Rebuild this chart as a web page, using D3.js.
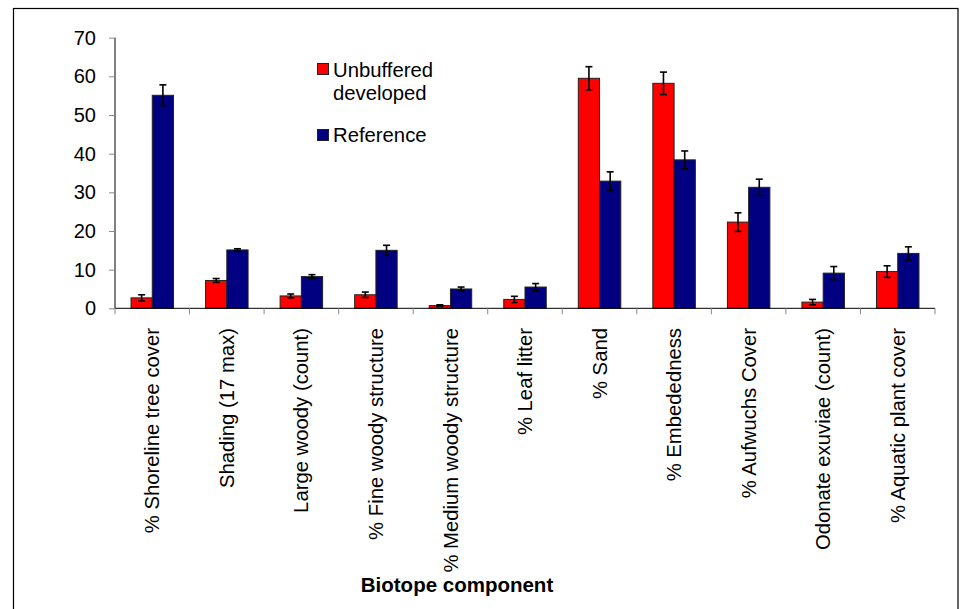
<!DOCTYPE html>
<html>
<head>
<meta charset="utf-8">
<script src="https://cdn.jsdelivr.net/npm/d3@7"></script>
<style>
body { margin: 0; background: #fff; }
svg { display: block; }
text { font-family: Arial, "Liberation Sans", sans-serif; fill: #000; }
</style>
</head>
<body>
<svg id="chart" width="963" height="609"></svg>
<script>
const categories = ["% Shoreline tree cover", "Shading (17 max)", "Large woody (count)", "% Fine woody structure", "% Medium woody structure", "% Leaf litter", "% Sand", "% Embededness", "% Aufwuchs Cover", "Odonate exuviae (count)", "% Aquatic plant cover"];
const seriesNames = ["Unbuffered developed", "Reference"];
const unbuffered = [2.7, 7.2, 3.2, 3.5, 0.7, 2.3, 59.5, 58.2, 22.3, 1.6, 9.5];
const unbufferedErr = [0.8, 0.5, 0.5, 0.7, 0.2, 0.8, 3.0, 2.9, 2.4, 0.7, 1.5];
const reference = [55.1, 15.1, 8.2, 15.0, 5.0, 5.5, 32.9, 38.4, 31.3, 9.1, 14.2];
const referenceErr = [2.7, 0.3, 0.5, 1.3, 0.5, 0.9, 2.4, 2.3, 2.1, 1.7, 1.7];
const yTicks = [0, 10, 20, 30, 40, 50, 60, 70];
const colors = ["#ff0000", "#000080"];
const xTitle = "Biotope component";

const svg = d3.select("#chart");

// outer frame
svg.append("rect").attr("x", 13.5).attr("y", 8.5).attr("width", 944.5).attr("height", 620)
  .attr("fill", "none").attr("stroke", "#000").attr("stroke-width", 1.2);

const x0 = 115, x1 = 935, yTop = 37.7, yBot = 308.3;
const x = d3.scaleBand().domain(categories).range([x0, x1]).padding(0);
const y = d3.scaleLinear().domain([0, 70]).range([yBot, yTop]);
const bw = x.bandwidth();
const inner = d3.scaleBand().domain(seriesNames).range([bw * 0.215, bw * 0.785]).padding(0);

// y axis
const yAxis = svg.append("g").attr("transform", `translate(${x0},0)`)
  .call(d3.axisLeft(y).tickValues(yTicks).tickSize(6).tickPadding(13).tickFormat(d3.format("d")));
yAxis.select(".domain").attr("stroke", "#000").attr("d", `M0,${yTop}V${yBot}`);
yAxis.selectAll(".tick line").attr("stroke", "#888");
yAxis.selectAll(".tick text").attr("font-size", 20).attr("font-family", "Arial, 'Liberation Sans', sans-serif").attr("fill", "#000");

// bars
const data = [unbuffered, reference];
const errs = [unbufferedErr, referenceErr];
seriesNames.forEach((s, si) => {
  const g = svg.append("g");
  g.selectAll("rect").data(categories).join("rect")
    .attr("x", d => x(d) + inner(s))
    .attr("width", inner.bandwidth())
    .attr("y", (d, i) => y(data[si][i]))
    .attr("height", (d, i) => yBot - y(data[si][i]))
    .attr("fill", colors[si])
    .attr("stroke", "#222").attr("stroke-width", 1);
  const eg = svg.append("g").attr("stroke", "#000").attr("stroke-width", 1.6);
  categories.forEach((c, i) => {
    const cx = x(c) + inner(s) + inner.bandwidth() / 2;
    const hi = y(data[si][i] + errs[si][i]), lo = y(data[si][i] - errs[si][i]);
    eg.append("line").attr("x1", cx).attr("x2", cx).attr("y1", hi).attr("y2", lo);
    eg.append("line").attr("x1", cx - 3.5).attr("x2", cx + 3.5).attr("y1", hi).attr("y2", hi);
    eg.append("line").attr("x1", cx - 3.5).attr("x2", cx + 3.5).attr("y1", lo).attr("y2", lo);
  });
});

// x axis
const xg = svg.append("g");
xg.append("line").attr("x1", x0).attr("x2", x1).attr("y1", yBot).attr("y2", yBot).attr("stroke", "#000");
const bounds = categories.map(c => x(c)).concat([x1]);
xg.selectAll("line.tk").data(bounds).join("line").attr("class", "tk")
  .attr("x1", d => d).attr("x2", d => d).attr("y1", yBot).attr("y2", yBot + 6).attr("stroke", "#888");
xg.selectAll("text").data(categories).join("text")
  .attr("transform", d => `translate(${x(d) + bw / 2},328) rotate(-90)`)
  .attr("text-anchor", "end").attr("dy", "0.35em").attr("font-size", 20.3)
  .text(d => d);

// x title
svg.append("text").attr("x", 457).attr("y", 591.5).attr("text-anchor", "middle")
  .attr("font-size", 20.5).attr("font-weight", "bold").text(xTitle);

// legend
const lg = svg.append("g");
lg.append("rect").attr("x", 317.5).attr("y", 63.5).attr("width", 11).attr("height", 11)
  .attr("fill", colors[0]).attr("stroke", "#222");
lg.append("text").attr("x", 333).attr("y", 76.5).attr("font-size", 20.3).text("Unbuffered");
lg.append("text").attr("x", 333).attr("y", 99.5).attr("font-size", 20.3).text("developed");
lg.append("rect").attr("x", 317.5).attr("y", 129.5).attr("width", 11).attr("height", 11)
  .attr("fill", colors[1]).attr("stroke", "#222");
lg.append("text").attr("x", 333).attr("y", 141.7).attr("font-size", 20.3).text("Reference");
</script>
</body>
</html>
